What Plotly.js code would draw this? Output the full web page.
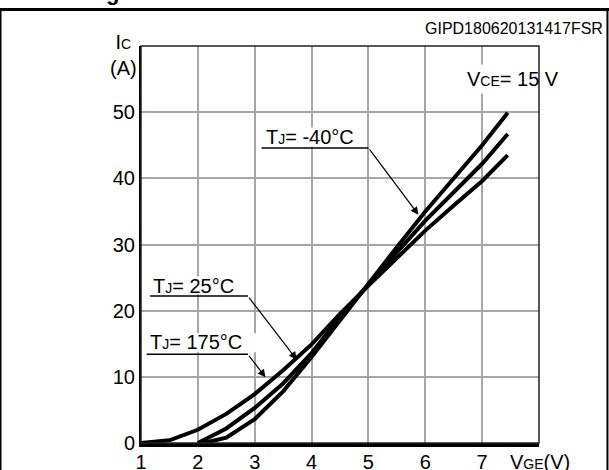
<!DOCTYPE html>
<html>
<head>
<meta charset="utf-8">
<script src="https://cdn.plot.ly/plotly-3.0.1.min.js"></script>
<style>html,body{margin:0;padding:0;background:#fff;}#chart{width:609px;height:470px;}</style>
</head>
<body>
<div id="chart"></div>
<script>
// Transfer characteristics, VCE = 15 V
const vgeM40 = [2.1, 2.5, 3, 3.5, 4, 4.5, 5, 5.5, 6, 6.5, 7, 7.45];
const icM40  = [0, 0.8, 3.6, 7.8, 13, 18.6, 24.2, 29.6, 35, 40, 45, 49.9];
const vge25  = [2, 2.5, 3, 3.5, 4, 4.5, 5, 5.5, 6, 6.5, 7, 7.45];
const ic25   = [0, 2.2, 5.3, 9, 13.6, 19, 24, 28.8, 33.6, 37.9, 42.2, 46.7];
const vge175 = [1, 1.5, 2, 2.5, 3, 3.5, 4, 4.5, 5, 5.5, 6, 6.5, 7, 7.45];
const ic175  = [0, 0.4, 2, 4.4, 7.4, 11, 14.9, 19.5, 23.8, 28, 32.1, 35.9, 39.6, 43.5];
const xTicks = [1, 2, 3, 4, 5, 6, 7];
const yTicks = [0, 10, 20, 30, 40, 50];
const SM = '<span style="font-size:14px">';
const labelM40 = 'T' + SM + 'J</span>= -40°C';
const label25  = 'T' + SM + 'J</span>= 25°C';
const label175 = 'T' + SM + 'J</span>= 175°C';

const FONT = 'Liberation Sans, Arial, Helvetica, sans-serif';
const lineStyle = {color: '#000', width: 4, shape: 'linear'};
const traces = [
  {x: vgeM40, y: icM40, mode: 'lines', line: lineStyle, name: '-40', hoverinfo: 'skip'},
  {x: vge25, y: ic25, mode: 'lines', line: lineStyle, name: '25', hoverinfo: 'skip'},
  {x: vge175, y: ic175, mode: 'lines', line: lineStyle, name: '175', hoverinfo: 'skip'}
];

function txt(text, x, y, opts) {
  return Object.assign({text: text, x: x, y: y, xref: 'x', yref: 'y', showarrow: false,
    font: {family: FONT, size: 20, color: '#000'}, borderpad: 0,
    xanchor: 'center', yanchor: 'middle'}, opts || {});
}
function arrow(x, y, ax, ay) {
  return {text: '', x: x, y: y, ax: ax, ay: ay, xref: 'x', yref: 'y', axref: 'x', ayref: 'y',
    showarrow: true, arrowhead: 2, arrowsize: 1.3, arrowwidth: 1.2, arrowcolor: '#000', standoff: 0, startstandoff: 0};
}
function uline(x0, x1, y) {
  return {type: 'line', xref: 'x', yref: 'y', x0: x0, x1: x1, y0: y, y1: y, line: {color: '#000', width: 1.5}};
}
function mask(x0, x1, y0, y1) {
  return {type: 'rect', xref: 'x', yref: 'y', x0: x0, x1: x1, y0: y0, y1: y1,
    fillcolor: '#fff', line: {width: 0}, layer: 'between'};
}

const layout = {
  width: 609, height: 470,
  margin: {l: 141, r: 70, t: 46, b: 27},
  paper_bgcolor: '#fff', plot_bgcolor: '#fff',
  showlegend: false,
  font: {family: FONT, size: 20, color: '#000'},
  xaxis: {range: [1, 8], tickvals: xTicks, ticktext: xTicks.map(String), showgrid: true,
    gridcolor: '#a6a6a6', gridwidth: 2, showline: true, linecolor: '#000', linewidth: 4,
    ticks: '', zeroline: false, ticklabelstandoff: -2, tickfont: {family: FONT, size: 20, color: '#000'}, fixedrange: true},
  yaxis: {range: [0, 60], tickvals: yTicks, ticktext: yTicks.map(String), showgrid: true,
    gridcolor: '#a6a6a6', gridwidth: 2, showline: true, linecolor: '#000', linewidth: 2,
    ticks: '', zeroline: false, ticklabelstandoff: 0, tickfont: {family: FONT, size: 20, color: '#000'}, fixedrange: true},
  shapes: [
    {type: 'rect', xref: 'paper', yref: 'paper', x0: 0, x1: 1, y0: 0, y1: 1, line: {color: '#222', width: 1.5}},
    mask(3.09, 4.86, 44.8, 47.7),
    mask(1.16, 2.72, 22.5, 25.2),
    mask(1.1, 3.05, 13.7, 16.6),
    mask(6.55, 7.95, 52.8, 57.2),
    uline(3.12, 5.0, 44.6),
    uline(1.16, 2.88, 22.2),
    uline(1.1, 2.88, 13.4),
    // page frame
    {type: 'line', xref: 'paper', yref: 'paper', x0: -0.36, x1: 1.18, y0: 1.092, y1: 1.092, line: {color: '#000', width: 3}},
    {type: 'line', xref: 'paper', yref: 'paper', x0: -0.353, x1: -0.353, y0: 1.095, y1: -0.08, line: {color: '#000', width: 2}},
    {type: 'line', xref: 'paper', yref: 'paper', x0: 1.172, x1: 1.172, y0: 1.095, y1: -0.08, line: {color: '#000', width: 2}}
  ],
  annotations: [
    txt(labelM40, 3.965, 46.2),
    txt(label25, 1.93, 23.8),
    txt(label175, 1.965, 15.2),
    arrow(5.88, 34.5, 5.0, 44.6),
    arrow(3.74, 12.6, 2.88, 22.2),
    arrow(3.19, 9.94, 2.88, 13.4),
    txt('V' + SM + 'CE</span>= 15 V', 7.54, 55.0),
    {text: 'GIPD180620131417FSR', xref: 'paper', yref: 'paper', x: 1.166, y: 1.045, xanchor: 'right', yanchor: 'middle',
      showarrow: false, font: {family: FONT, size: 16, color: '#000'}},
    {text: 'I' + SM + 'C</span><br>(A)', xref: 'paper', yref: 'paper', x: -0.005, y: 0.978, xanchor: 'right', yanchor: 'middle',
      align: 'center', showarrow: false, font: {family: FONT, size: 20, color: '#000'}},
    {text: 'V' + SM + 'GE</span>(V)', xref: 'paper', yref: 'paper', x: 0.922, y: -0.048, xanchor: 'left', yanchor: 'middle',
      showarrow: false, font: {family: FONT, size: 20, color: '#000'}},
    {text: '<b>g</b>', xref: 'paper', yref: 'paper', x: -0.072, y: 1.101, xanchor: 'center', yanchor: 'bottom',
      showarrow: false, borderpad: 0, font: {family: FONT, size: 22, color: '#000'}}
  ]
};

Plotly.newPlot('chart', traces, layout, {displayModeBar: false, staticPlot: true});
</script>
</body>
</html>
